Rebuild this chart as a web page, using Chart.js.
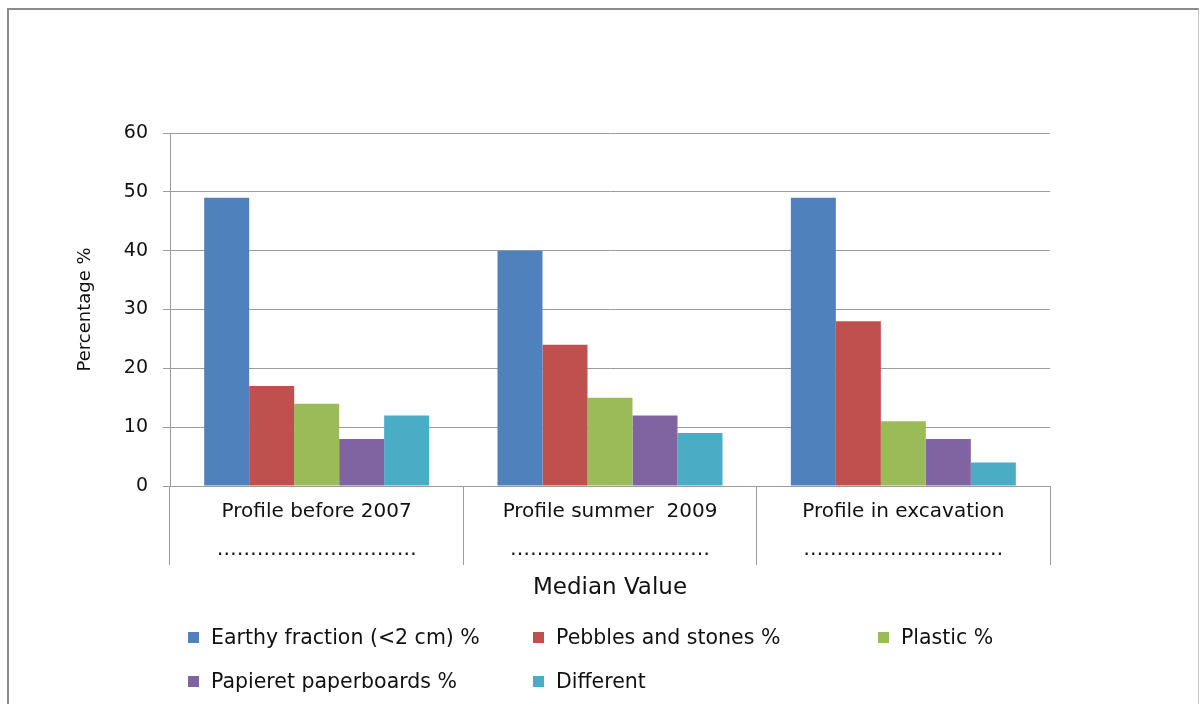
<!DOCTYPE html>
<html>
<head>
<meta charset="utf-8">
<script src="https://cdn.jsdelivr.net/npm/chart.js@4.4.1/dist/chart.umd.min.js"></script>
<style>
  html, body { margin: 0; padding: 0; background: #fff; }
  body { width: 1200px; height: 704px; position: relative; overflow: hidden; font-family: "DejaVu Sans", sans-serif; }
  #frame { position: absolute; left: 7px; top: 8px; width: 1189px; height: 710px;
           border-top: 2px solid #8a8a8a; border-left: 2px solid #8a8a8a; border-right: 1px solid #c8c8c8; }
  #wrap { position: absolute; left: 0; top: 0; width: 1200px; height: 704px; }
  #legend { position: absolute; left: 0; top: 0; width: 1200px; height: 704px; pointer-events: none; }
  .li { position: absolute; display: flex; align-items: center; font-size: 20.5px; color: #111; white-space: pre; }
  .sw { width: 11px; height: 11px; margin-right: 12px; flex: none; }
</style>
</head>
<body>
<div id="frame"></div>
<div id="wrap"><canvas id="c" width="1200" height="704"></canvas></div>
<div id="legend"></div>
<script>
// ---- data ----
const dots = '…………………………';
const categories = [
  ['Profile before 2007', dots],
  ['Profile summer  2009', dots],
  ['Profile in excavation', dots]
];
const seriesNames = ['Earthy fraction (<2 cm) %', 'Pebbles and stones %', 'Plastic %', 'Papieret paperboards %', 'Different'];
const earthy   = [49, 40, 49];
const pebbles  = [17, 24, 28];
const plastic  = [14, 15, 11];
const papier   = [8, 12, 8];
const different = [12, 9, 4];
const yTicks = [0, 10, 20, 30, 40, 50, 60];
const yTitle = 'Percentage %';
const xTitle = 'Median Value';

const colors = ['#4F81BD', '#C0504D', '#9BBB59', '#8064A2', '#4BACC6'];
const seriesData = [earthy, pebbles, plastic, papier, different];

const datasets = seriesNames.map((n, i) => ({
  label: n,
  data: seriesData[i],
  backgroundColor: colors[i],
  borderWidth: 0,
  barPercentage: 1.0,
  categoryPercentage: 0.767
}));

const FONT = '"DejaVu Sans", sans-serif';
const gridColor = '#9c9c9c';

new Chart(document.getElementById('c'), {
  type: 'bar',
  data: { labels: categories, datasets },
  options: {
    responsive: false,
    animation: false,
    events: [],
    layout: { padding: { left: 10, right: 150, top: 133, bottom: 0 } },
    plugins: { legend: { display: false }, tooltip: { enabled: false } },
    scales: {
      x: {
        offset: true,
        grid: { offset: true, drawOnChartArea: false, drawTicks: true, tickLength: 79, color: gridColor, lineWidth: 1 },
        border: { display: true, color: gridColor, width: 1 },
        ticks: { padding: -72, color: '#111', font: { family: FONT, size: 20, lineHeight: 1.9 }, maxRotation: 0, autoSkip: false },
        title: { display: true, text: xTitle, color: '#111', font: { family: FONT, size: 23, lineHeight: 1.2 }, padding: { top: 0, bottom: 102 } },
        afterFit: (s) => { s.height = 218; }
      },
      y: {
        min: 0, max: 60,
        afterBuildTicks: (s) => { s.ticks = yTicks.map(v => ({ value: v })); },
        grid: { color: gridColor, lineWidth: 1, drawTicks: true, tickLength: 7 },
        border: { display: true, color: gridColor, width: 1 },
        ticks: { padding: 15, color: '#111', font: { family: FONT, size: 19 } },
        title: { display: true, text: yTitle, color: '#111', font: { family: FONT, size: 18, lineHeight: 1.2 }, padding: { top: 65, bottom: 0 } },
        afterFit: (s) => { s.width = 160; }
      }
    }
  }
});

// HTML legend built from the series arrays
const legend = document.getElementById('legend');
const colX = [188, 533, 878];
const rowY = [637, 681];
seriesNames.forEach((n, i) => {
  const d = document.createElement('div');
  d.className = 'li';
  d.style.left = colX[i % 3] + 'px';
  d.style.top = (rowY[Math.floor(i / 3)] - 13) + 'px';
  d.style.height = '26px';
  const sw = document.createElement('span');
  sw.className = 'sw';
  sw.style.background = colors[i];
  const t = document.createElement('span');
  t.textContent = n;
  d.appendChild(sw); d.appendChild(t);
  legend.appendChild(d);
});
</script>
</body>
</html>
